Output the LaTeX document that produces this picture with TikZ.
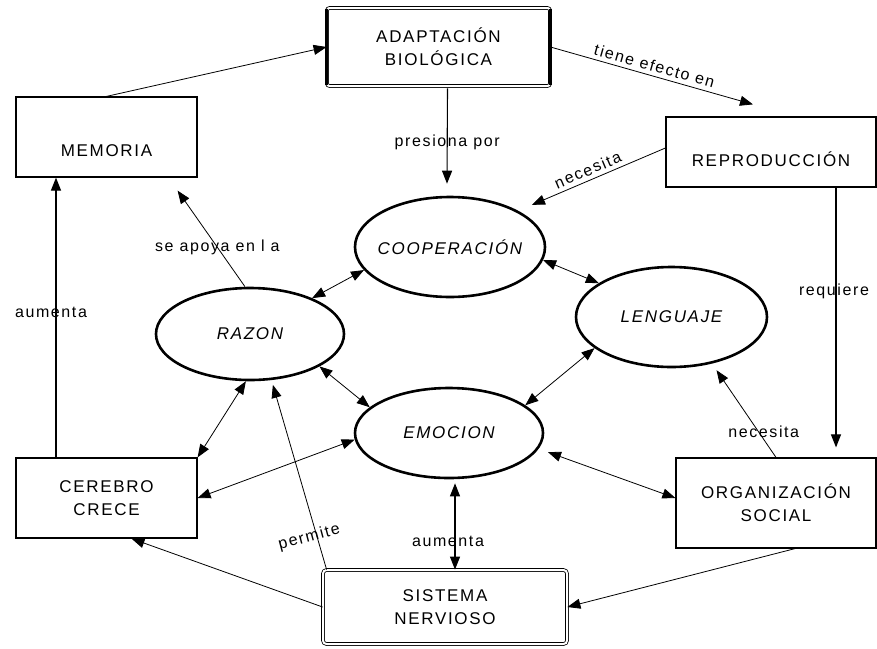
\documentclass[tikz,border=0pt]{standalone}
\usepackage{fontspec}
\setmainfont{Liberation Sans}[LetterSpace=10]
\usetikzlibrary{arrows.meta,shapes.geometric,calc}
\tikzset{
  base/.style={font=\fontsize{17}{23}\selectfont, inner sep=0pt},
  box/.style={base, draw, line width=1.2pt, rectangle, align=center},
  sbox/.style={base, draw, line width=1.2pt, rectangle},
  dbox/.style={base, draw, double, double distance=2pt, line width=0.8pt, rounded corners=2.5pt, align=center},
  oval/.style={base, draw, ellipse, line width=2.6pt, font=\fontsize{17}{23}\selectfont\itshape},
  lbl/.style={font=\fontsize{16}{19}\selectfont, inner sep=0pt},
  tip/.style={},
  arr/.style={line width=0.8pt, -{Triangle[length=13pt,width=10pt]}},
  darr/.style={line width=0.8pt, {Triangle[length=13pt,width=10pt]}-{Triangle[length=13pt,width=10pt]}},
}
\begin{document}
\begin{tikzpicture}[x=1pt,y=-1pt]
\useasboundingbox (0,0) rectangle (877,648);
% nodes
\node[dbox, minimum width=223pt, minimum height=78pt] (adapt) at (438.5,47) {ADAPTACIÓN\\BIOLÓGICA};
\draw[line width=3.5pt] ([yshift=-1pt]adapt.north west) -- ([yshift=1pt]adapt.south west);
\draw[line width=3.5pt] ([yshift=-1pt]adapt.north east) -- ([yshift=1pt]adapt.south east);
\node[sbox, minimum width=181pt, minimum height=80pt] (mem) at (106.5,137) {\raisebox{-19pt}[0pt][0pt]{MEMORIA}};
\node[sbox, minimum width=210pt, minimum height=70pt] (repro) at (771,152) {\raisebox{-14pt}[0pt][0pt]{REPRODUCCIÓN}};
\node[oval, minimum width=190pt, minimum height=100pt] (coop) at (450,247) {\makebox[60pt]{COOPERACIÓN}};
\node[oval, minimum width=188pt, minimum height=92pt] (razon) at (250,334) {\makebox[40pt]{RAZON}};
\node[oval, minimum width=191pt, minimum height=100pt] (leng) at (671.5,317) {\makebox[60pt]{LENGUAJE}};
\node[oval, minimum width=188pt, minimum height=90pt] (emo) at (449,433) {\makebox[60pt]{EMOCION}};
\node[box, minimum width=181pt, minimum height=80pt] (cere) at (106.5,498) {CEREBRO\\CRECE};
\node[box, minimum width=200pt, minimum height=90pt] (org) at (776,503) {ORGANIZACIÓN\\SOCIAL};
\node[dbox, rounded corners=3.5pt, minimum width=244pt, minimum height=74pt] (sis) at (445,607) {SISTEMA\\NERVIOSO};
% connectors
\draw[arr] (mem.north) -- (adapt.west);
\draw[arr] (adapt.east) -- ([xshift=-18pt,yshift=12pt]repro.north)
  node[midway, above=4pt, sloped, lbl] {tiene efecto en};
\draw[arr, line width=1.1pt] ([xshift=9pt,yshift=-2pt]adapt.south) -- ([xshift=-3pt,yshift=12pt]coop.north)
  node[pos=0.57, lbl] {presiona por};
\draw[arr, shorten >=15pt] ([yshift=4pt]repro.west) -- (coop.28)
  node[midway, above=4pt, sloped, lbl] {necesita};
\draw[arr, line width=1.1pt] ([xshift=65pt]repro.south) -- ([xshift=60pt,yshift=10pt]org.north)
  node[pos=0.40, xshift=-2pt, lbl] {requiere};
\draw[arr] ([xshift=-5pt]razon.north) -- ([xshift=-20pt,yshift=-13pt]mem.south east)
  node[pos=0.41, lbl] {se apoya en l a};
\draw[darr] (coop.195) -- (razon.30);
\draw[darr] (coop.-8) -- (leng.155);
\draw[darr] (leng.202) -- (emo.20);
\draw[darr] (razon.-25) -- (emo.162);
\draw[darr] (razon.265) -- (cere.north east);
\draw[darr] (emo.184) -- (cere.east);
\draw[darr, shorten <=10pt] (emo.-10) -- ([yshift=5pt]org.west);
\draw[darr, line width=1.1pt, shorten <=4pt] ([xshift=6pt]emo.south) -- ([xshift=10pt]sis.north)
  node[pos=0.69, xshift=-7pt, lbl] {aumenta};
\draw[arr] (sis.west) -- ([xshift=25pt]cere.south);
\draw[arr, shorten >=5pt] ([xshift=4pt]sis.north west) -- (razon.295)
  node[pos=0.17, xshift=-8pt, rotate=15, lbl] {permite};
\draw[arr] ([xshift=19pt]org.south) -- (sis.east);
\draw[arr, shorten >=8pt] (org.north) -- (leng.-49)
  node[pos=0.27, xshift=5pt, lbl] {necesita};
\draw[arr, line width=1.1pt] ([xshift=-50.5pt]cere.north) -- ([xshift=-50.5pt]mem.south)
  node[pos=0.52, xshift=-5pt, lbl] {aumenta};
\end{tikzpicture}
\end{document}
